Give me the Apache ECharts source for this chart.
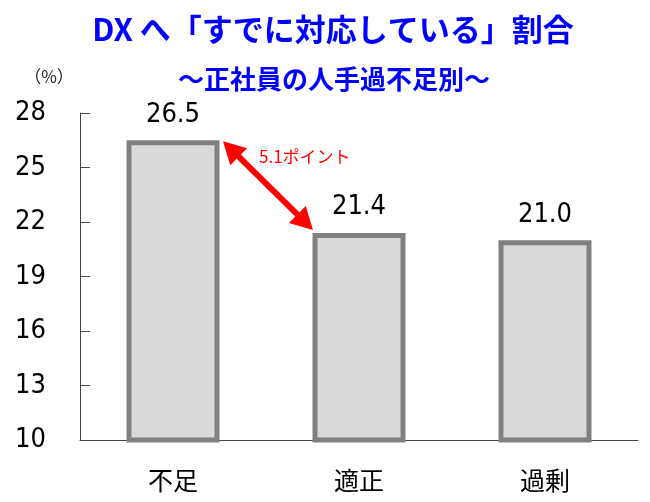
<!DOCTYPE html>
<html><head><meta charset="utf-8">
<script src="https://cdn.jsdelivr.net/npm/echarts@6/dist/echarts.min.js"></script>
<style>html,body{margin:0;padding:0;background:#fff}#c{width:650px;height:502px}</style>
</head><body><div id="c"></div>
<script>
const categories = ['不足', '適正', '過剰'];
const values = [26.5, 21.4, 21.0];
const yTicks = [10, 13, 16, 19, 22, 25, 28];
const titleText = 'DX へ「すでに対応している」割合';
const subtitleText = '～正社員の人手過不足別～';
const unitText = '（%）';
const diffText = '5.1ポイント';

const NUM_FONT = '"DejaVu Sans Condensed", "Noto Sans", sans-serif';
const CJK_FONT = '"Noto Sans CJK JP", sans-serif';
const chart = echarts.init(document.getElementById('c'), null, {renderer: 'canvas'});
const BAR_W = 93, BORDER = 5;
const option = {
  backgroundColor: '#fff',
  animation: false,
  grid: {left: 80, right: 12, top: 113, bottom: 62},
  xAxis: {
    type: 'category', data: categories,
    axisLine: {lineStyle: {color: '#444', width: 1}},
    axisTick: {inside: true, length: 10, lineStyle: {color: '#444'}},
    axisLabel: {margin: 28, fontFamily: CJK_FONT, fontSize: 25, color: '#000'}
  },
  yAxis: {
    type: 'value', min: yTicks[0], max: yTicks[yTicks.length - 1], interval: 3,
    axisLine: {show: true, lineStyle: {color: '#444', width: 1}},
    axisTick: {show: true, inside: true, length: 10, lineStyle: {color: '#444'}},
    splitLine: {show: false},
    axisLabel: {margin: 34, fontFamily: NUM_FONT, fontSize: 27, color: '#000'}
  },
  series: [{
    type: 'bar', data: values, barWidth: BAR_W,
    itemStyle: {color: '#d9d9d9', borderColor: '#808080', borderWidth: BORDER},
    label: {show: true, position: 'top', distance: 12, fontFamily: NUM_FONT, fontSize: 27, color: '#000',
      formatter: p => p.value.toFixed(1)}
  }]
};
chart.setOption(option);

// Arrow between bar 1 top-right corner and bar 2 top-left corner, via library scales
const p1 = chart.convertToPixel({seriesIndex: 0}, [0, values[0]]);
const p2 = chart.convertToPixel({seriesIndex: 0}, [1, values[1]]);
const a = [p1[0] + BAR_W / 2 + BORDER / 2 + 1, p1[1] + 1];
const b = [p2[0] - BAR_W / 2 - BORDER / 2 + 3, p2[1] - 3];
const dx = b[0] - a[0], dy = b[1] - a[1];
const L = Math.sqrt(dx * dx + dy * dy);
const ux = dx / L, uy = dy / L, nx = -uy, ny = ux;
const headLen = 22, headW = 12;
function head(tip, dir) {
  const bx = tip[0] - dir[0] * headLen, by = tip[1] - dir[1] * headLen;
  return [tip, [bx + nx * headW, by + ny * headW], [bx - nx * headW, by - ny * headW]];
}
chart.setOption({
  graphic: [
    {type: 'text', x: 333, y: 29, style: {text: titleText, fill: '#0000ff', fontFamily: CJK_FONT, fontWeight: 'bold', fontSize: 31, textAlign: 'center', textVerticalAlign: 'middle'}},
    {type: 'text', x: 334, y: 79, style: {text: subtitleText, fill: '#0000ff', fontFamily: CJK_FONT, fontWeight: 'bold', fontSize: 26, textAlign: 'center', textVerticalAlign: 'middle'}},
    {type: 'text', x: 49, y: 77, style: {text: unitText, fill: '#222', fontFamily: CJK_FONT, fontSize: 17, textAlign: 'center', textVerticalAlign: 'middle'}},
    {type: 'line', shape: {x1: a[0] + ux * 16, y1: a[1] + uy * 16, x2: b[0] - ux * 16, y2: b[1] - uy * 16},
      style: {stroke: '#ff0000', lineWidth: 6}, z: 100},
    {type: 'polygon', shape: {points: head(a, [-ux, -uy])}, style: {fill: '#ff0000'}, z: 100},
    {type: 'polygon', shape: {points: head(b, [ux, uy])}, style: {fill: '#ff0000'}, z: 100},
    {type: 'text', x: 259, y: 157,
      style: {text: diffText, fill: '#ff0000', fontFamily: CJK_FONT, fontSize: 17, textVerticalAlign: 'middle'}, z: 100}
  ]
});
</script></body></html>
